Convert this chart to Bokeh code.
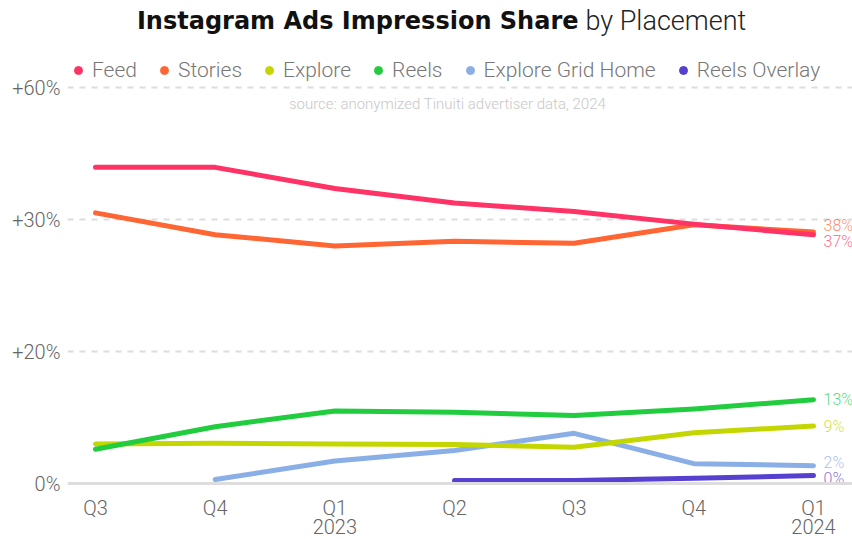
from bokeh.plotting import figure
from bokeh.models import Range1d, FixedTicker, Span, Legend, LegendItem, Label, ColumnDataSource
from bokeh.core.properties import value
from bokeh.embed import file_html
from bokeh.resources import INLINE

nan = float("nan")

quarter_labels = ["Q3", "Q4", "Q1", "Q2", "Q3", "Q4", "Q1"]
year_labels = ["", "", "2023", "", "", "", "2024"]
series_names = ["Feed", "Stories", "Explore", "Reels", "Explore Grid Home", "Reels Overlay"]
feed = [47.9, 47.9, 44.7, 42.5, 41.2, 39.3, 37.7]
stories = [41.0, 37.7, 36.0, 36.7, 36.4, 39.2, 38.1]
explore = [6.0, 6.1, 6.0, 5.9, 5.5, 7.7, 8.7]
reels = [5.2, 8.6, 11.0, 10.8, 10.3, 11.3, 12.7]
explore_grid_home = [nan, 0.6, 3.4, 5.0, 7.6, 3.0, 2.7]
reels_overlay = [nan, nan, nan, 0.45, 0.45, 0.8, 1.2]
end_labels = ["37%", "38%", "9%", "13%", "2%", "0%"]
y_ticks = [0, 20, 40, 60]
y_tick_labels = ["0%", "+20%", "+30%", "+60%"]
colors = ["#ff3366", "#ff6633", "#c4d600", "#22cc3f", "#8aaee6", "#5540cf"]

series = [feed, stories, explore, reels, explore_grid_home, reels_overlay]

W, H = 852, 539
FRAME_L = 67
X0, X6 = 95, 813          # pixel positions of first / last quarter
Y0, Y60 = 483, 87         # pixel positions of 0 and 60
ppx = (X6 - X0) / 6.0
ppy = (Y0 - Y60) / 60.0

p = figure(width=W, height=H, output_backend="svg", toolbar_location=None,
           x_range=Range1d(-(X0 - FRAME_L) / ppx, 6 + (W - X6) / ppx),
           y_range=Range1d(-(H - Y0) / ppy, 60 + Y60 / ppy),
           min_border_left=FRAME_L, min_border_right=0, min_border_top=0,
           min_border_bottom=0)
p.outline_line_color = None
p.background_fill_color = "white"
p.border_fill_color = "white"

# y axis
p.yaxis.ticker = FixedTicker(ticks=y_ticks)
p.yaxis.major_label_overrides = {t: s for t, s in zip(y_ticks, y_tick_labels)}
ax = p.yaxis[0]
ax.axis_line_color = None
ax.major_tick_line_color = None
ax.minor_tick_line_color = None
ax.major_tick_out = 0
ax.major_tick_in = 0
ax.major_label_text_font = "Roboto Light"
ax.major_label_text_font_size = "20px"
ax.major_label_text_color = "#666666"
ax.major_label_standoff = 7
p.xaxis.visible = False

# category (quarter / year) labels under the zero line
xs = list(range(len(quarter_labels)))
q_src = ColumnDataSource(dict(x=xs, y=[0] * len(xs), q=quarter_labels, yr=year_labels))
p.text(x="x", y="y", text="q", source=q_src, y_offset=24, text_align="center",
       text_baseline="middle", text_font=value("Roboto Light"), text_font_size="20px",
       text_color="#666666")
p.text(x="x", y="y", text="yr", source=q_src, y_offset=43, text_align="center",
       text_baseline="middle", text_font=value("Roboto Light"), text_font_size="20px",
       text_color="#666666")

p.xgrid.grid_line_color = None
p.ygrid.ticker = FixedTicker(ticks=[t for t in y_ticks if t != 0])
p.ygrid.grid_line_color = "#dddddd"
p.ygrid.grid_line_width = 2
p.ygrid.grid_line_dash = "6 6"
p.add_layout(Span(location=0, dimension="width", line_color="#dddddd", line_width=3))

# lines (Feed on top)
draw_order = [5, 4, 2, 3, 1, 0]
for i in draw_order:
    src = ColumnDataSource(dict(x=xs, y=series[i]))
    p.line("x", "y", source=src, line_color=colors[i], line_width=5,
           line_cap="round", line_join="round")

# end labels with simple de-overlap
last_vals = [s[-1] for s in series]
gap = 16 / ppy
order = sorted(range(len(last_vals)), key=lambda k: last_vals[k])
pos = {k: last_vals[k] for k in order}
for _ in range(200):
    moved = False
    for a, b in zip(order[:-1], order[1:]):
        d = pos[b] - pos[a]
        if d < gap - 1e-6:
            shift = (gap - d) / 2
            pos[a] -= shift
            pos[b] += shift
            moved = True
    if not moved:
        break
label_src = ColumnDataSource(dict(x=[xs[-1]] * len(series),
                                  y=[pos[k] for k in range(len(series))],
                                  text=end_labels, color=colors))
p.text(x="x", y="y", text="text", source=label_src, text_color="color", text_alpha=0.75,
       x_offset=10, text_baseline="middle", text_align="left",
       text_font=value("Roboto Light"), text_font_size="16px")

# legend
items = []
for name, c in zip(series_names, colors):
    r = p.scatter(x=[nan], y=[nan], marker="circle", size=12, fill_color=c, line_color=c)
    items.append(LegendItem(label=name, renderers=[r]))
legend = Legend(items=items, orientation="horizontal", location=(1, H - 83),
                glyph_width=20, glyph_height=26, label_height=26, label_standoff=4, spacing=17,
                padding=0, margin=0, border_line_color=None, background_fill_alpha=0,
                label_text_font="Roboto Light", label_text_font_size="21px",
                label_text_color="#777777")
p.add_layout(legend)

# title (two parts) and source note
title_y = (Y0 - 20) / ppy
split_x = (578 - X0) / ppx
p.add_layout(Label(x=split_x, y=title_y, text="Instagram Ads Impression Share", text_align="right",
                   text_baseline="middle", text_font="DejaVu Sans", text_font_style="bold",
                   text_font_size="24px", text_color="#111111"))
p.add_layout(Label(x=split_x, y=title_y, x_offset=7, text="by Placement", text_align="left",
                   text_baseline="middle", text_font="Roboto Light", text_font_size="27px",
                   text_color="#222222"))
p.add_layout(Label(x=(447 - X0) / ppx, y=(Y0 - 103) / ppy,
                   text="source: anonymized Tinuiti advertiser data, 2024", text_align="center",
                   text_baseline="middle", text_font="Roboto Light", text_font_size="15px",
                   text_color="#c8c8c8"))

open("out.html", "w").write(file_html(p, INLINE))
